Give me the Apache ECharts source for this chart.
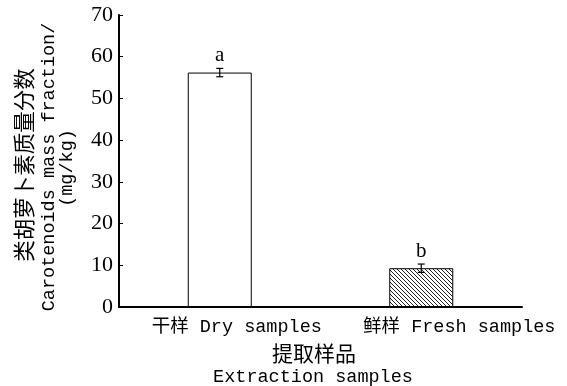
<!DOCTYPE html>
<html><head><meta charset="utf-8">
<script src="https://cdn.jsdelivr.net/npm/echarts@6/dist/echarts.min.js"></script>
<style>html,body{margin:0;padding:0;background:#fff}#c{width:567px;height:386px}</style>
</head><body><div id="c"></div>
<script>
var categories = ['干样 Dry samples', '鲜样 Fresh samples'];
var values = [56.2, 9.3];
var errors = [1.0, 1.0];
var letters = ['a', 'b'];
var yTicks = [0, 10, 20, 30, 40, 50, 60, 70];

var MONO = "'Liberation Mono', 'Noto Sans CJK SC', monospace";
var CJK = "'Noto Sans CJK SC', sans-serif";

function hatch() {
  var c = document.createElement('canvas');
  c.width = 4; c.height = 4;
  var g = c.getContext('2d');
  g.fillStyle = '#fff'; g.fillRect(0, 0, 4, 4);
  g.strokeStyle = '#222'; g.lineWidth = 1;
  g.beginPath();
  g.moveTo(-1, -1); g.lineTo(5, 5);
  g.moveTo(-1, 3); g.lineTo(1, 5);
  g.moveTo(3, -1); g.lineTo(5, 1);
  g.stroke();
  return c;
}

var chart = echarts.init(document.getElementById('c'), null, {renderer: 'canvas'});
var barData = values.map(function (v, i) {
  return {
    value: v,
    itemStyle: i === 0 ? {color: '#fff'} : {color: {image: hatch(), repeat: 'repeat'}}
  };
});
var errData = values.map(function (v, i) { return [i, v - errors[i], v + errors[i], letters[i]]; });

chart.setOption({
  animation: false,
  grid: {left: 119, right: 45, top: 15, bottom: 79},
  xAxis: {
    type: 'category',
    data: categories,
    axisLine: {lineStyle: {color: '#000', width: 2}},
    axisTick: {show: false},
    axisLabel: {
      interval: 0,
      margin: 11,
      formatter: function (v, i) { return '{' + (i === 0 ? 'd' : 'f') + '|' + v + '}'; },
      rich: {
        d: {fontFamily: MONO, fontSize: 18.5, color: '#000', padding: [0, 0, 0, 34]},
        f: {fontFamily: MONO, fontSize: 18.5, color: '#000', padding: [0, 0, 0, 76]}
      }
    }
  },
  yAxis: {
    type: 'value',
    min: 0, max: 70, interval: 10,
    axisLine: {show: true, lineStyle: {color: '#000', width: 2}},
    axisTick: {show: true, inside: true, length: 4, lineStyle: {color: '#000', width: 1}},
    splitLine: {show: false},
    axisLabel: {
      fontFamily: "'Liberation Serif', serif", fontSize: 22, color: '#000', margin: 6,
      formatter: function (v) { return yTicks.indexOf(v) >= 0 ? String(v) : ''; }
    }
  },
  series: [
    {
      type: 'bar',
      data: barData,
      barWidth: 64,
      itemStyle: {borderColor: '#000', borderWidth: 1}
    },
    {
      type: 'custom',
      data: errData,
      z: 10,
      renderItem: function (params, api) {
        var x = api.value(0);
        var lo = api.coord([x, api.value(1)]);
        var hi = api.coord([x, api.value(2)]);
        var w = 3.5;
        var style = {stroke: '#000', lineWidth: 1.2};
        return {
          type: 'group',
          children: [
            {type: 'line', shape: {x1: lo[0], y1: lo[1], x2: hi[0], y2: hi[1]}, style: style},
            {type: 'line', shape: {x1: lo[0] - w, y1: lo[1], x2: lo[0] + w, y2: lo[1]}, style: style},
            {type: 'line', shape: {x1: hi[0] - w, y1: hi[1], x2: hi[0] + w, y2: hi[1]}, style: style},
            {type: 'text', x: hi[0], y: hi[1] - 2,
             style: {text: api.value(3), textAlign: 'center', textVerticalAlign: 'bottom',
                     font: "21px 'Liberation Serif', serif", fill: '#000'}}
          ]
        };
      }
    }
  ],
  graphic: [
    {type: 'text', x: 24, y: 165, rotation: Math.PI / 2,
     style: {text: '类胡萝卜素质量分数', font: "21.5px " + CJK, fill: '#000', textAlign: 'center', textVerticalAlign: 'middle'}},
    {type: 'text', x: 49, y: 167, rotation: Math.PI / 2,
     style: {text: 'Carotenoids mass fraction/', font: "18.5px " + MONO, fill: '#000', textAlign: 'center', textVerticalAlign: 'middle'}},
    {type: 'text', x: 67, y: 168, rotation: Math.PI / 2,
     style: {text: '(mg/kg)', font: "18.5px " + MONO, fill: '#000', textAlign: 'center', textVerticalAlign: 'middle'}},
    {type: 'text', x: 314, y: 353,
     style: {text: '提取样品', font: "21px " + CJK, fill: '#000', textAlign: 'center', textVerticalAlign: 'middle'}},
    {type: 'text', x: 313, y: 377,
     style: {text: 'Extraction samples', font: "18.5px " + MONO, fill: '#000', textAlign: 'center', textVerticalAlign: 'middle'}}
  ]
});
</script>
</body></html>
